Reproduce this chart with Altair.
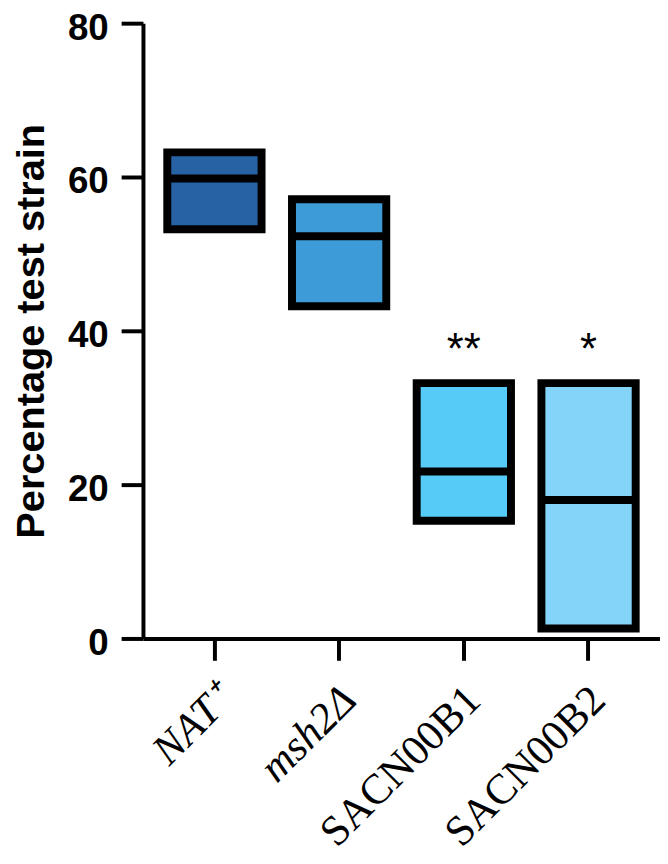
import altair as alt
import pandas as pd

strains = ["NAT⁺", "msh2Δ", "SACN00B1", "SACN00B2"]
q1 = [53.2, 43.2, 15.3, 1.3]
q3 = [63.2, 57.1, 33.2, 33.2]
median = [59.8, 52.3, 21.7, 18.0]
fills = ["#2762a5", "#3d9cd8", "#56cbf7", "#84d3f9"]
sig = ["", "", "**", "*"]
sig_y = 37.3
y_ticks = [0, 20, 40, 60, 80]

df = pd.DataFrame({"strain": strains, "q1": q1, "q3": q3, "median": median,
                   "sig": sig, "sig_y": [sig_y] * len(strains)})

xscale = alt.Scale(domain=strains, paddingInner=0.244, paddingOuter=0.195)
xaxis = alt.Axis(
    title=None, labelAngle=315, labelAlign="right", labelBaseline="middle",
    labelFont="Liberation Serif", labelFontSize=43, labelColor="black",
    labelFontStyle={"condition": {"test": "datum.index < 0.4", "value": "italic"}, "value": "normal"},
    labelPadding=33, labelOffset=10, labelLimit=500, labelOverlap=False,
    tickSize=22, tickWidth=4, tickColor="black",
    domainWidth=4, domainColor="black",
)
yaxis = alt.Axis(
    title="Percentage test strain", titleFont="Liberation Sans", titleFontWeight="bold",
    titleFontSize=40, titleColor="black", titlePadding=16,
    values=y_ticks, labelFont="Liberation Sans", labelFontWeight="bold",
    labelFontSize=37, labelColor="black", labelPadding=13, labelOffset=5,
    tickSize=22, tickWidth=4, tickColor="black",
    domainWidth=4, domainColor="black", grid=False,
)
yscale = alt.Scale(domain=[0, 80], nice=False, zero=True)

boxes = alt.Chart(df).mark_rect(stroke="black", strokeWidth=8).encode(
    x=alt.X("strain:N", scale=xscale, axis=xaxis, sort=strains),
    y=alt.Y("q1:Q", scale=yscale, axis=yaxis),
    y2="q3:Q",
    fill=alt.Fill("strain:N", scale=alt.Scale(domain=strains, range=fills), legend=None),
)

medians = alt.Chart(df).mark_tick(color="black", size=95, thickness=8, opacity=1).encode(
    x=alt.X("strain:N", scale=xscale, sort=strains),
    y=alt.Y("median:Q", scale=yscale),
)

stars = alt.Chart(df).mark_text(font="Liberation Sans", fontSize=44, color="black",
                                baseline="middle", align="center").encode(
    x=alt.X("strain:N", scale=xscale, sort=strains),
    y=alt.Y("sig_y:Q", scale=yscale),
    text="sig:N",
)

chart = alt.layer(boxes, medians, stars).properties(
    width=521, height=620,
    autosize=alt.AutoSizeParams(type="none"),
    padding={"left": 136, "top": 12, "right": 0, "bottom": 226},
).configure_view(stroke=None)

chart.save("out.html", embed_options={"renderer": "svg", "actions": False})
